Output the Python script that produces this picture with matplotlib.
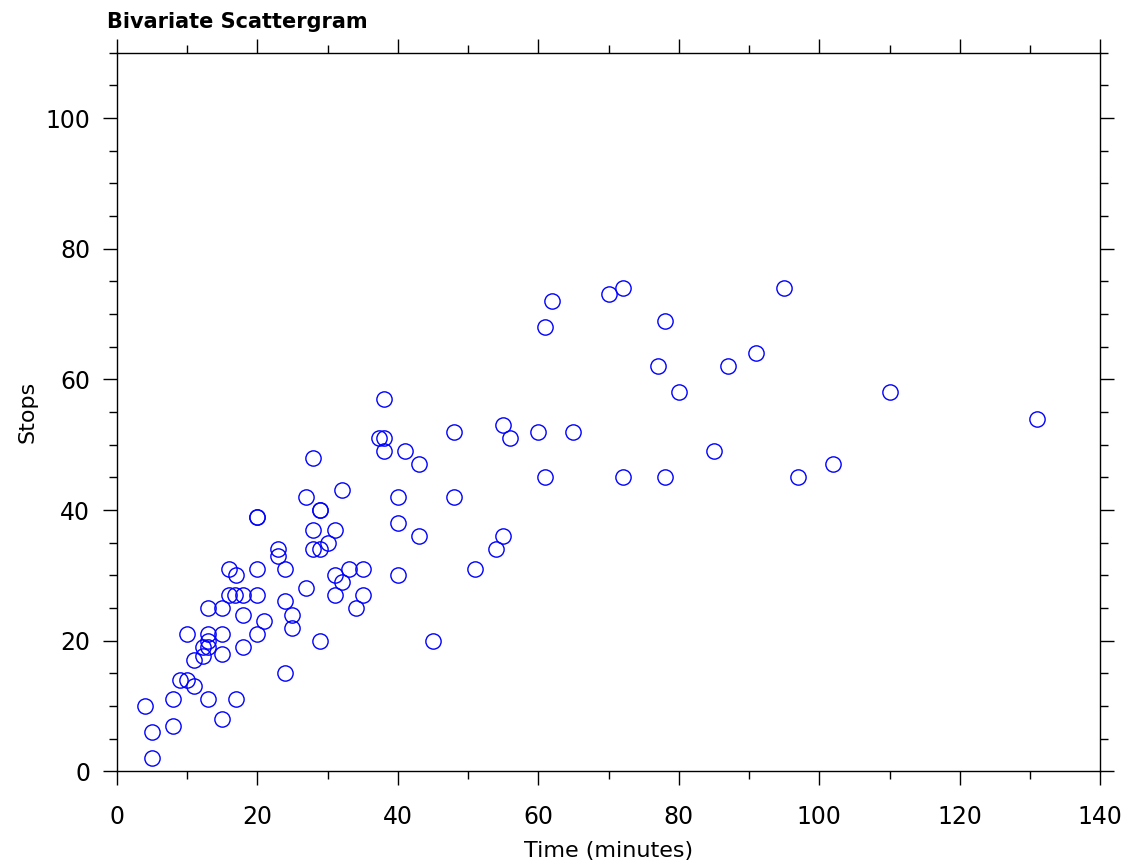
import numpy as np
import matplotlib
matplotlib.use("Agg")
import matplotlib.pyplot as plt
from matplotlib.ticker import MultipleLocator

# -------------------------
# Data
# -------------------------
time_min = [4, 5, 5, 8, 8, 9, 10, 11, 10, 11,
            12.3, 12.3, 13, 13, 13, 13, 13, 15, 17, 15,
            15, 15, 16, 16, 16.8, 17, 18, 18, 18,
            20, 20, 20, 20, 20, 21, 24, 23, 23,
            24, 24, 25, 25, 27, 27, 29, 29, 29, 28,
            31, 30, 28, 29, 32, 31, 32, 31, 33, 35,
            35, 34, 28, 38, 37.4, 38.1, 38, 41, 43, 48,
            48, 40, 40, 43, 40, 45, 51, 54, 55, 55,
            56, 60, 65, 61, 72, 78, 62, 61, 70, 72,
            78, 77, 80, 95, 91, 87, 110, 85, 102, 97,
            131]
stops = [10, 6, 2, 11, 7, 14, 14, 13, 21, 17,
         17.7, 19, 20, 19, 21, 25, 11, 8, 11, 18,
         21, 25, 27, 31, 27, 30, 27, 24, 19,
         39, 39, 31, 27, 21, 23, 15, 34, 33,
         31, 26, 24, 22, 28, 42, 20, 40, 40, 37,
         37, 35, 34, 34, 43, 30, 29, 27, 31, 31,
         27, 25, 48, 57, 51, 51, 49, 49, 47, 52,
         42, 42, 38, 36, 30, 20, 31, 34, 36, 53,
         51, 52, 52, 45, 45, 45, 72, 68, 73, 74,
         69, 62, 58, 74, 64, 62, 58, 49, 47, 45,
         54]

# -------------------------
# Plot
# -------------------------
plt.rcParams['font.family'] = ['DejaVu Sans']

fig = plt.figure(figsize=(11.29, 8.65), dpi=100)
ax = fig.add_axes([0.1034, 0.1083, 0.8712, 0.8307])

ax.plot(time_min, stops, linestyle='none', marker='o', markersize=11,
        markerfacecolor='none', markeredgecolor='blue', markeredgewidth=1.0)

ax.set_xlim(0, 140)
ax.set_ylim(0, 110)
ax.xaxis.set_major_locator(MultipleLocator(20))
ax.xaxis.set_minor_locator(MultipleLocator(10))
ax.yaxis.set_major_locator(MultipleLocator(20))
ax.yaxis.set_minor_locator(MultipleLocator(5))

ax.tick_params(which='both', direction='out', top=True, right=True,
               labeltop=False, labelright=False, width=1.0, colors='black')
ax.tick_params(which='major', length=10)
ax.tick_params(which='minor', length=5.5)
ax.tick_params(axis='x', which='major', labelsize=17, pad=14)
ax.tick_params(axis='y', which='major', labelsize=17, pad=9)

for s in ax.spines.values():
    s.set_linewidth(1.0)

ax.set_xlabel("Time (minutes)", fontsize=16, labelpad=9)
ax.set_ylabel("Stops", fontsize=16, labelpad=6)

fig.text(0.0948, 0.968, "Bivariate Scattergram", fontsize=15,
         fontweight='bold', ha='left', va='baseline')

fig.savefig("out.png", dpi=100)
